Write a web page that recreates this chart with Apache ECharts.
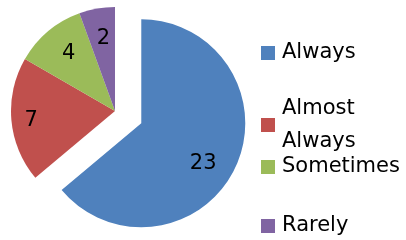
<!DOCTYPE html>
<html>
<head>
<meta charset="utf-8">
<script src="https://cdn.jsdelivr.net/npm/echarts@6/dist/echarts.min.js"></script>
<style>
  html, body { margin: 0; padding: 0; background: #fff; }
  #chart { width: 406px; height: 240px; }
</style>
</head>
<body>
<div id="chart"></div>
<script>
const categories = ['Always', 'Almost Always', 'Sometimes', 'Rarely']
const values = [23, 7, 4, 2]
const colors = ['#4F81BD', '#C0504D', '#9BBB59', '#8064A2']

// label nudges (dx, dy) from echarts' inside position to where the original sits
const labelShift = [[12, 17], [-29, 5], [-11, -15], [-2, -18]]
// legend row centres (y)
const legendRows = [51, 108, 165, 224]

const font = 'DejaVu Sans'

// build a rich label: spacer tokens push the value by (dx, dy)
function nudgedLabel(dx, dy) {
  let line = dx > 0 ? '{h| }{v|{c}}' : '{v|{c}}{h| }'
  let text = dy > 0 ? '{s| }\n' + line : line + '\n{s| }'
  return {
    formatter: text,
    rich: {
      h: { width: Math.abs(dx) * 2, fontSize: 1, lineHeight: 1 },
      s: { lineHeight: Math.abs(dy) * 2, height: Math.abs(dy) * 2, fontSize: 1 },
      v: { fontFamily: font, fontSize: 21, color: '#000', lineHeight: 24 }
    }
  }
}

const chart = echarts.init(document.getElementById('chart'), null, { renderer: 'canvas' })

const seriesData = categories.map((name, i) => ({
  name: name,
  value: values[i],
  selected: i === 0,
  itemStyle: { color: colors[i] },
  label: nudgedLabel(labelShift[i][0], labelShift[i][1])
}))

const legends = categories.map((name, i) => {
  const twoLine = name === 'Almost Always'
  return {
    orient: 'vertical',
    left: 261,
    top: twoLine ? legendRows[i] - 32.5 : legendRows[i] - 8.5,
    padding: 0,
    itemWidth: 14,
    itemHeight: 14,
    icon: 'rect',
    selectedMode: false,
    data: [name],
    formatter: n => (n === 'Almost Always' ? 'Almost\nAlways' : n),
    textStyle: {
      fontFamily: font,
      fontSize: 21,
      color: '#000',
      lineHeight: twoLine ? 33 : 14,
      padding: twoLine ? [33, 0, 0, 2] : [0, 0, 0, 2]
    }
  }
})

chart.setOption({
  animation: false,
  color: colors,
  legend: legends,
  series: [
    {
      type: 'pie',
      center: [115, 111],
      radius: [0, 104],
      startAngle: 90,
      clockwise: true,
      selectedMode: 'single',
      selectedOffset: 29,
      emphasis: { disabled: true },
      itemStyle: { borderWidth: 0 },
      labelLayout: { hideOverlap: false },
      label: {
        show: true,
        position: 'inside',
        fontFamily: font,
        fontSize: 21,
        color: '#000'
      },
      labelLine: { show: false },
      data: seriesData
    }
  ]
})
</script>
</body>
</html>
